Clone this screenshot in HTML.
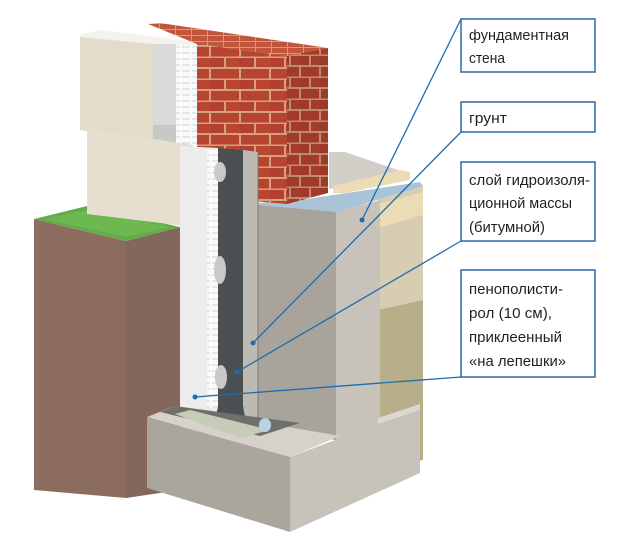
<!DOCTYPE html>
<html><head><meta charset="utf-8"><style>
html,body{margin:0;padding:0;background:#fff;}
svg{display:block;}
text{font-family:"Liberation Sans",sans-serif;font-size:15px;fill:#231f20;}
</style></head><body>
<svg width="620" height="547" viewBox="0 0 620 547" xmlns="http://www.w3.org/2000/svg">
<defs>
<pattern id="brick" x="0" y="2" width="30" height="22" patternUnits="userSpaceOnUse">
<rect width="30" height="22" fill="#d4a07f"/>
<rect x="1" y="1" width="28" height="9.5" fill="#b7442f"/>
<rect x="-14" y="12" width="28" height="9" fill="#b24030"/>
<rect x="16" y="12" width="28" height="9" fill="#b84631"/>
</pattern>
<pattern id="brick2" x="0" y="0" width="20" height="22" patternUnits="userSpaceOnUse">
<rect width="20" height="22" fill="#c08a6c"/>
<rect x="1" y="1" width="18" height="9.5" fill="#a23a28"/>
<rect x="-9" y="12" width="18" height="9" fill="#9e3828"/>
<rect x="11" y="12" width="18" height="9" fill="#a53b2a"/>
</pattern>
<pattern id="bricktop" width="16" height="6" patternUnits="userSpaceOnUse">
<rect width="16" height="6" fill="#d49a7c"/>
<rect x="0" y="0" width="15" height="5" fill="#c2563d"/>
</pattern>
<pattern id="eps" width="10" height="6" patternUnits="userSpaceOnUse">
<rect width="10" height="6" fill="#fafafa"/>
<line x1="2" y1="5" x2="10" y2="5" stroke="#c9c9c9" stroke-width="0.8"/>
</pattern>
</defs>

<!-- back grey block and slab -->
<polygon points="329,152 345,152 398,170 398,178 345,186 329,189" fill="#d2cfc9"/>
<polygon points="333,186 400,170 410,172 410,180 345,193 333,193" fill="#ecdcb5"/>
<!-- region right of wall -->
<polygon points="378,200 423,186 423,460 378,470" fill="#b7ae8a"/>
<polygon points="378,200 423,186 423,300 378,310" fill="#d7cdb2"/>
<polygon points="378,204 423,192 423,215 378,228" fill="#ecdcb5"/>
<!-- wall right face -->
<polygon points="336,212 380,200 380,470 336,470" fill="#c7c3bb"/>
<!-- blue top -->
<polygon points="258,203 300,200 420,182 423,186 338,212 262,210" fill="#a9c3d8"/>
<!-- wall front face -->
<polygon points="258,205 336,212 336,440 258,430" fill="#a8a49c"/>

<!-- soil -->
<polygon points="34,219 126,241 126,498 34,490" fill="#8c6c5e"/>
<polygon points="126,241 180,227 180,490 126,498" fill="#84665a"/>
<polygon points="34,219 87,206 180,227 126,241" fill="#62ad48"/>
<polygon points="44,219 87,210 170,227 126,237" fill="#79c45a" opacity="0.5"/>

<!-- upper beige block + insulation -->
<polygon points="80,35 100,30 198,42 198,48 153,44 80,38" fill="#f4f2ee"/>
<polygon points="80,37 153,44 153,141 80,130" fill="#e3dccb"/>
<rect x="153" y="44" width="23" height="101" fill="#d9d9d9"/>
<rect x="153" y="125" width="23" height="20" fill="#c8c8c8"/>
<rect x="176" y="45" width="22" height="100" fill="url(#eps)"/>
<!-- brick -->
<polygon points="148,24 160,23 328,48 287,56 197,44" fill="url(#bricktop)"/>
<polygon points="197,44 287,56 287,204 197,196" fill="url(#brick)"/>
<polygon points="287,56 328,48 328,193 287,204" fill="url(#brick2)"/>

<!-- lower beige block -->
<polygon points="87,129 180,143 193,145 193,227 87,214" fill="#e6dfcf"/>
<!-- EPS lower -->
<path d="M180,146 L218,148 L218,405 Q218,414 208,414 L180,414 Z" fill="#ececec"/>
<rect x="207" y="150" width="11" height="258" fill="url(#eps)"/>
<!-- bitumen -->
<path d="M218,148 L243,150 L243,400 Q243,425 262,430 L250,440 Q218,432 210,418 Q218,414 218,405 Z" fill="#4a4f52"/>
<ellipse cx="220" cy="172" rx="6" ry="10" fill="#c9c9c9"/>
<ellipse cx="220" cy="270" rx="6" ry="14" fill="#c9c9c9"/>
<ellipse cx="221" cy="377" rx="6" ry="12" fill="#c9c9c9"/>
<!-- membrane -->
<path d="M243,150 L258,152 L258,420 Q258,430 268,433 L262,437 Q243,428 243,400 Z" fill="#bdbab2"/>
<line x1="258" y1="152" x2="258" y2="430" stroke="#7c7a75" stroke-width="1"/>

<!-- footing -->
<polygon points="147,417 172,407 340,436 290,457" fill="#d6d2ca"/>
<polygon points="160,412 175,406 300,423 260,436" fill="#6f706c"/>
<polygon points="175,414 190,410 270,430 240,438" fill="#c7ccb8"/>
<polygon points="147,417 290,457 290,532 147,488" fill="#aaa59d"/>
<polygon points="290,457 420,408 420,473 290,532" fill="#c7c3bb"/>
<polygon points="378,418 420,404 420,410 378,424" fill="#dcd8d0"/>
<ellipse cx="265" cy="425" rx="6" ry="7" fill="#b9d2e6"/>

<!-- leader lines -->
<g stroke="#1f6bb0" stroke-width="1.3" fill="none">
<polyline points="461,19 362,220"/>
<polyline points="461,132 253,343"/>
<polyline points="461,241 237,372"/>
<polyline points="461,377 195,397"/>
</g>
<g fill="#1f6bb0">
<circle cx="362" cy="220" r="2.5"/><circle cx="253" cy="343" r="2.5"/>
<circle cx="237" cy="372" r="2.5"/><circle cx="195" cy="397" r="2.5"/>
</g>
<!-- boxes -->
<g fill="#fff" stroke="#2a6aa8" stroke-width="1.5">
<rect x="461" y="19" width="134" height="53"/>
<rect x="461" y="102" width="134" height="30"/>
<rect x="461" y="162" width="134" height="79"/>
<rect x="461" y="270" width="134" height="107"/>
</g>
<text x="469" y="40" textLength="100" lengthAdjust="spacingAndGlyphs">фундаментная</text>
<text x="469" y="63" textLength="36" lengthAdjust="spacingAndGlyphs">стена</text>
<text x="469" y="123" textLength="38" lengthAdjust="spacingAndGlyphs">грунт</text>
<text x="469" y="185" textLength="121" lengthAdjust="spacingAndGlyphs">слой гидроизоля-</text>
<text x="469" y="208" textLength="103" lengthAdjust="spacingAndGlyphs">ционной массы</text>
<text x="469" y="232" textLength="76" lengthAdjust="spacingAndGlyphs">(битумной)</text>
<text x="469" y="294" textLength="94" lengthAdjust="spacingAndGlyphs">пенополисти-</text>
<text x="469" y="318" textLength="83" lengthAdjust="spacingAndGlyphs">рол (10 см),</text>
<text x="469" y="342" textLength="93" lengthAdjust="spacingAndGlyphs">приклеенный</text>
<text x="469" y="366" textLength="97" lengthAdjust="spacingAndGlyphs">«на лепешки»</text>
</svg>
</body></html>
